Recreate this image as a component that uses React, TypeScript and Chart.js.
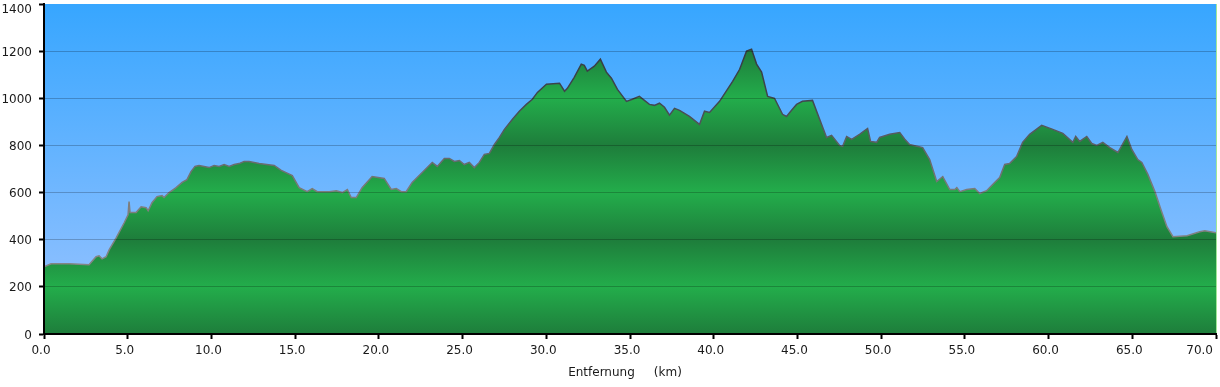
import React, { useEffect, useRef } from "react";
import { Chart, registerables } from "chart.js";

Chart.register(...registerables);

const distanceKm = [
  0.0, 0.42, 1.5, 2.69, 3.11, 3.29, 3.47, 3.71, 3.89, 4.31, 4.79, 5.02, 5.08, 5.14, 5.5, 5.8, 6.1, 6.22, 6.45, 6.75,
  7.05, 7.17, 7.47, 7.89, 8.25, 8.54, 8.78, 9.02, 9.26, 9.56, 9.86, 10.16, 10.46, 10.76, 11.06, 11.36, 11.65, 11.95, 12.25, 12.85,
  13.75, 14.17, 14.83, 15.24, 15.72, 16.02, 16.32, 17.04, 17.46, 17.82, 18.12, 18.35, 18.65, 19.0, 19.6, 20.32, 20.74, 21.04, 21.34, 21.63,
  21.99, 22.59, 23.19, 23.49, 23.91, 24.21, 24.51, 24.81, 25.1, 25.4, 25.7, 26.0, 26.3, 26.6, 26.9, 27.2, 27.5, 27.98, 28.39, 28.81,
  29.17, 29.47, 30.01, 30.79, 31.09, 31.26, 31.67, 32.09, 32.27, 32.45, 32.87, 33.23, 33.59, 33.89, 34.25, 34.79, 35.14, 35.56, 35.86, 36.16,
  36.46, 36.76, 37.06, 37.36, 37.66, 37.96, 38.55, 39.15, 39.45, 39.75, 40.35, 41.13, 41.55, 41.96, 42.26, 42.56, 42.86, 43.22, 43.63, 44.11,
  44.35, 44.65, 44.95, 45.3, 45.9, 46.74, 47.04, 47.52, 47.7, 47.94, 48.24, 48.71, 49.19, 49.37, 49.73, 49.91, 50.51, 51.11, 51.41, 51.7,
  52.48, 52.9, 53.32, 53.68, 54.1, 54.4, 54.52, 54.7, 55.11, 55.59, 55.89, 56.3, 56.66, 57.08, 57.38, 57.67, 58.09, 58.45, 58.87, 59.59,
  60.25, 60.85, 61.45, 61.62, 61.86, 62.28, 62.58, 62.88, 63.24, 63.66, 64.14, 64.68, 64.97, 65.33, 65.57, 65.93, 66.35, 66.71, 67.07, 67.43,
  68.27, 69.03, 69.33, 70.0,
];

const elevationM = [
  285, 298, 298, 294, 328, 332, 319, 328, 357, 408, 472, 506, 562, 515, 515, 540, 536, 523, 557, 583,
  587, 579, 600, 621, 643, 655, 689, 711, 715, 711, 706, 715, 711, 719, 711, 719, 723, 732, 732, 723,
  715, 694, 672, 621, 604, 617, 604, 604, 608, 600, 613, 579, 579, 621, 668, 660, 613, 617, 604, 604,
  643, 685, 728, 711, 745, 745, 732, 736, 719, 728, 706, 728, 762, 766, 804, 834, 868, 911, 945, 974,
  996, 1025, 1060, 1064, 1030, 1042, 1089, 1145, 1140, 1115, 1136, 1166, 1111, 1085, 1038, 987, 996, 1008, 991, 974,
  970, 979, 962, 928, 957, 949, 923, 889, 945, 940, 987, 1072, 1123, 1200, 1208, 1145, 1111, 1008, 1000, 932,
  923, 949, 974, 987, 991, 834, 843, 800, 796, 838, 826, 847, 872, 817, 813, 834, 847, 855, 826, 804,
  791, 740, 647, 668, 613, 613, 621, 604, 613, 617, 596, 608, 634, 664, 719, 723, 753, 813, 847, 885,
  868, 851, 813, 838, 817, 838, 808, 800, 813, 791, 770, 838, 783, 740, 728, 677, 604, 528, 455, 413,
  417, 434, 438, 430,
];

const xTickValues = [0, 5, 10, 15, 20, 25, 30, 35, 40, 45, 50, 55, 60, 65, 70];
const yTickValues = [0, 200, 400, 600, 800, 1000, 1200, 1400];
const xAxisTitle = "Entfernung     (km)";

const FONT = '12px "DejaVu Sans", Verdana, sans-serif';

export default function App() {
  const ref = useRef<HTMLCanvasElement>(null);

  useEffect(() => {
    document.body.style.margin = "0";
    const canvas = ref.current!;

    const skyPlugin = {
      id: "sky",
      beforeDraw(chart: any) {
        const { ctx, chartArea } = chart;
        if (!chartArea) return;
        const { left, top, right, bottom } = chartArea;
        const g = ctx.createLinearGradient(0, top, 0, bottom);
        g.addColorStop(0, "#37a6ff");
        g.addColorStop(1, "#9cc4ff");
        ctx.save();
        ctx.fillStyle = g;
        ctx.fillRect(left, top, right - left, bottom - top);
        ctx.restore();
      },
    };

    const labelsPlugin = {
      id: "tickLabels",
      afterDraw(chart: any) {
        const { ctx, chartArea } = chart;
        const xs = chart.scales.x;
        const ys = chart.scales.y;
        ctx.save();
        // right edge light line
        ctx.strokeStyle = "rgba(150,228,140,0.9)";
        ctx.lineWidth = 1;
        ctx.beginPath();
        ctx.moveTo(chartArea.right + 0.5, chartArea.top);
        ctx.lineTo(chartArea.right + 0.5, chartArea.bottom - 1);
        ctx.stroke();

        ctx.font = FONT;
        ctx.fillStyle = "#1a1a1a";
        ctx.textBaseline = "alphabetic";
        ctx.textAlign = "left";
        xTickValues.forEach((v) => {
          const label = v.toFixed(1);
          const w = ctx.measureText(label).width;
          const px = xs.getPixelForValue(v) - 3;
          let left = px - w / 2;
          if (left + w > chart.width - 7) left = chart.width - 7 - w;
          if (left < 0) left = 0;
          ctx.fillText(label, left, 354);
        });
        ctx.textAlign = "right";
        yTickValues.forEach((v) => {
          const py = ys.getPixelForValue(v);
          const base = Math.max(py + 4.5, 13);
          ctx.fillText(String(v), 32, base);
        });
        // axis title
        ctx.textAlign = "center";
        ctx.fillText(xAxisTitle, (chartArea.left + chartArea.right) / 2 - 5, 376);
        ctx.restore();
      },
    };

    const chart = new Chart(canvas, {
      type: "line",
      data: {
        datasets: [
          {
            data: distanceKm.map((d, i) => ({ x: d, y: elevationM[i] })),
            fill: "origin",
            pointRadius: 0,
            borderWidth: 1.5,
            tension: 0,
            backgroundColor: (c: any) => {
              const ch = c.chart;
              if (!ch.chartArea) return "#22a848";
              const y0 = ch.scales.y.getPixelForValue(0);
              const y1 = ch.scales.y.getPixelForValue(1400);
              const g = ch.ctx.createLinearGradient(0, y0, 0, y1);
              yTickValues.forEach((v, i) => {
                g.addColorStop(v / 1400, i % 2 === 0 ? "#1e7d3b" : "#23ad4b");
              });
              return g;
            },
            borderColor: (c: any) => {
              const ch = c.chart;
              if (!ch.chartArea) return "#777";
              const y0 = ch.scales.y.getPixelForValue(0);
              const y1 = ch.scales.y.getPixelForValue(1400);
              const g = ch.ctx.createLinearGradient(0, y0, 0, y1);
              g.addColorStop(0, "#8c8c8c");
              g.addColorStop(0.43, "#7c7c7c");
              g.addColorStop(0.57, "#5e6266");
              g.addColorStop(0.71, "#40464e");
              g.addColorStop(1, "#2c3238");
              return g;
            },
          },
        ],
      },
      options: {
        animation: false,
        responsive: false,
        layout: { padding: { top: 4, right: 4, left: 0, bottom: 0 } },
        plugins: { legend: { display: false }, tooltip: { enabled: false } },
        scales: {
          x: {
            type: "linear",
            min: 0,
            max: 70,
            afterBuildTicks: (s: any) => {
              s.ticks = xTickValues.map((v) => ({ value: v }));
            },
            afterFit: (s: any) => {
              s.height = 53;
              s.paddingLeft = 0;
              s.paddingRight = 0;
            },
            ticks: { display: false },
            grid: {
              drawOnChartArea: false,
              drawTicks: true,
              tickLength: 5,
              tickWidth: 2,
              tickColor: "#000",
              z: 1,
            },
            border: { display: true, color: "#000", width: 2, z: 1 },
            title: { display: false },
          },
          y: {
            min: 0,
            max: 1400,
            afterBuildTicks: (s: any) => {
              s.ticks = yTickValues.map((v) => ({ value: v }));
            },
            afterFit: (s: any) => {
              s.width = 44;
              s.paddingTop = 0;
              s.paddingBottom = 0;
            },
            ticks: { display: false },
            grid: {
              color: (c: any) =>
                c.tick && c.tick.value === 1400 ? "rgba(0,0,0,0)" : "rgba(0,0,0,0.22)",
              lineWidth: 1,
              drawTicks: true,
              tickLength: 5,
              tickWidth: 2,
              tickColor: "#000",
              z: 1,
            },
            border: { display: true, color: "#000", width: 2, z: 1 },
          },
        },
      },
      plugins: [skyPlugin, labelsPlugin],
    } as any);

    return () => chart.destroy();
  }, []);

  return (
    <canvas
      ref={ref}
      width={1220}
      height={387}
      style={{ display: "block", width: 1220, height: 387 }}
    />
  );
}
